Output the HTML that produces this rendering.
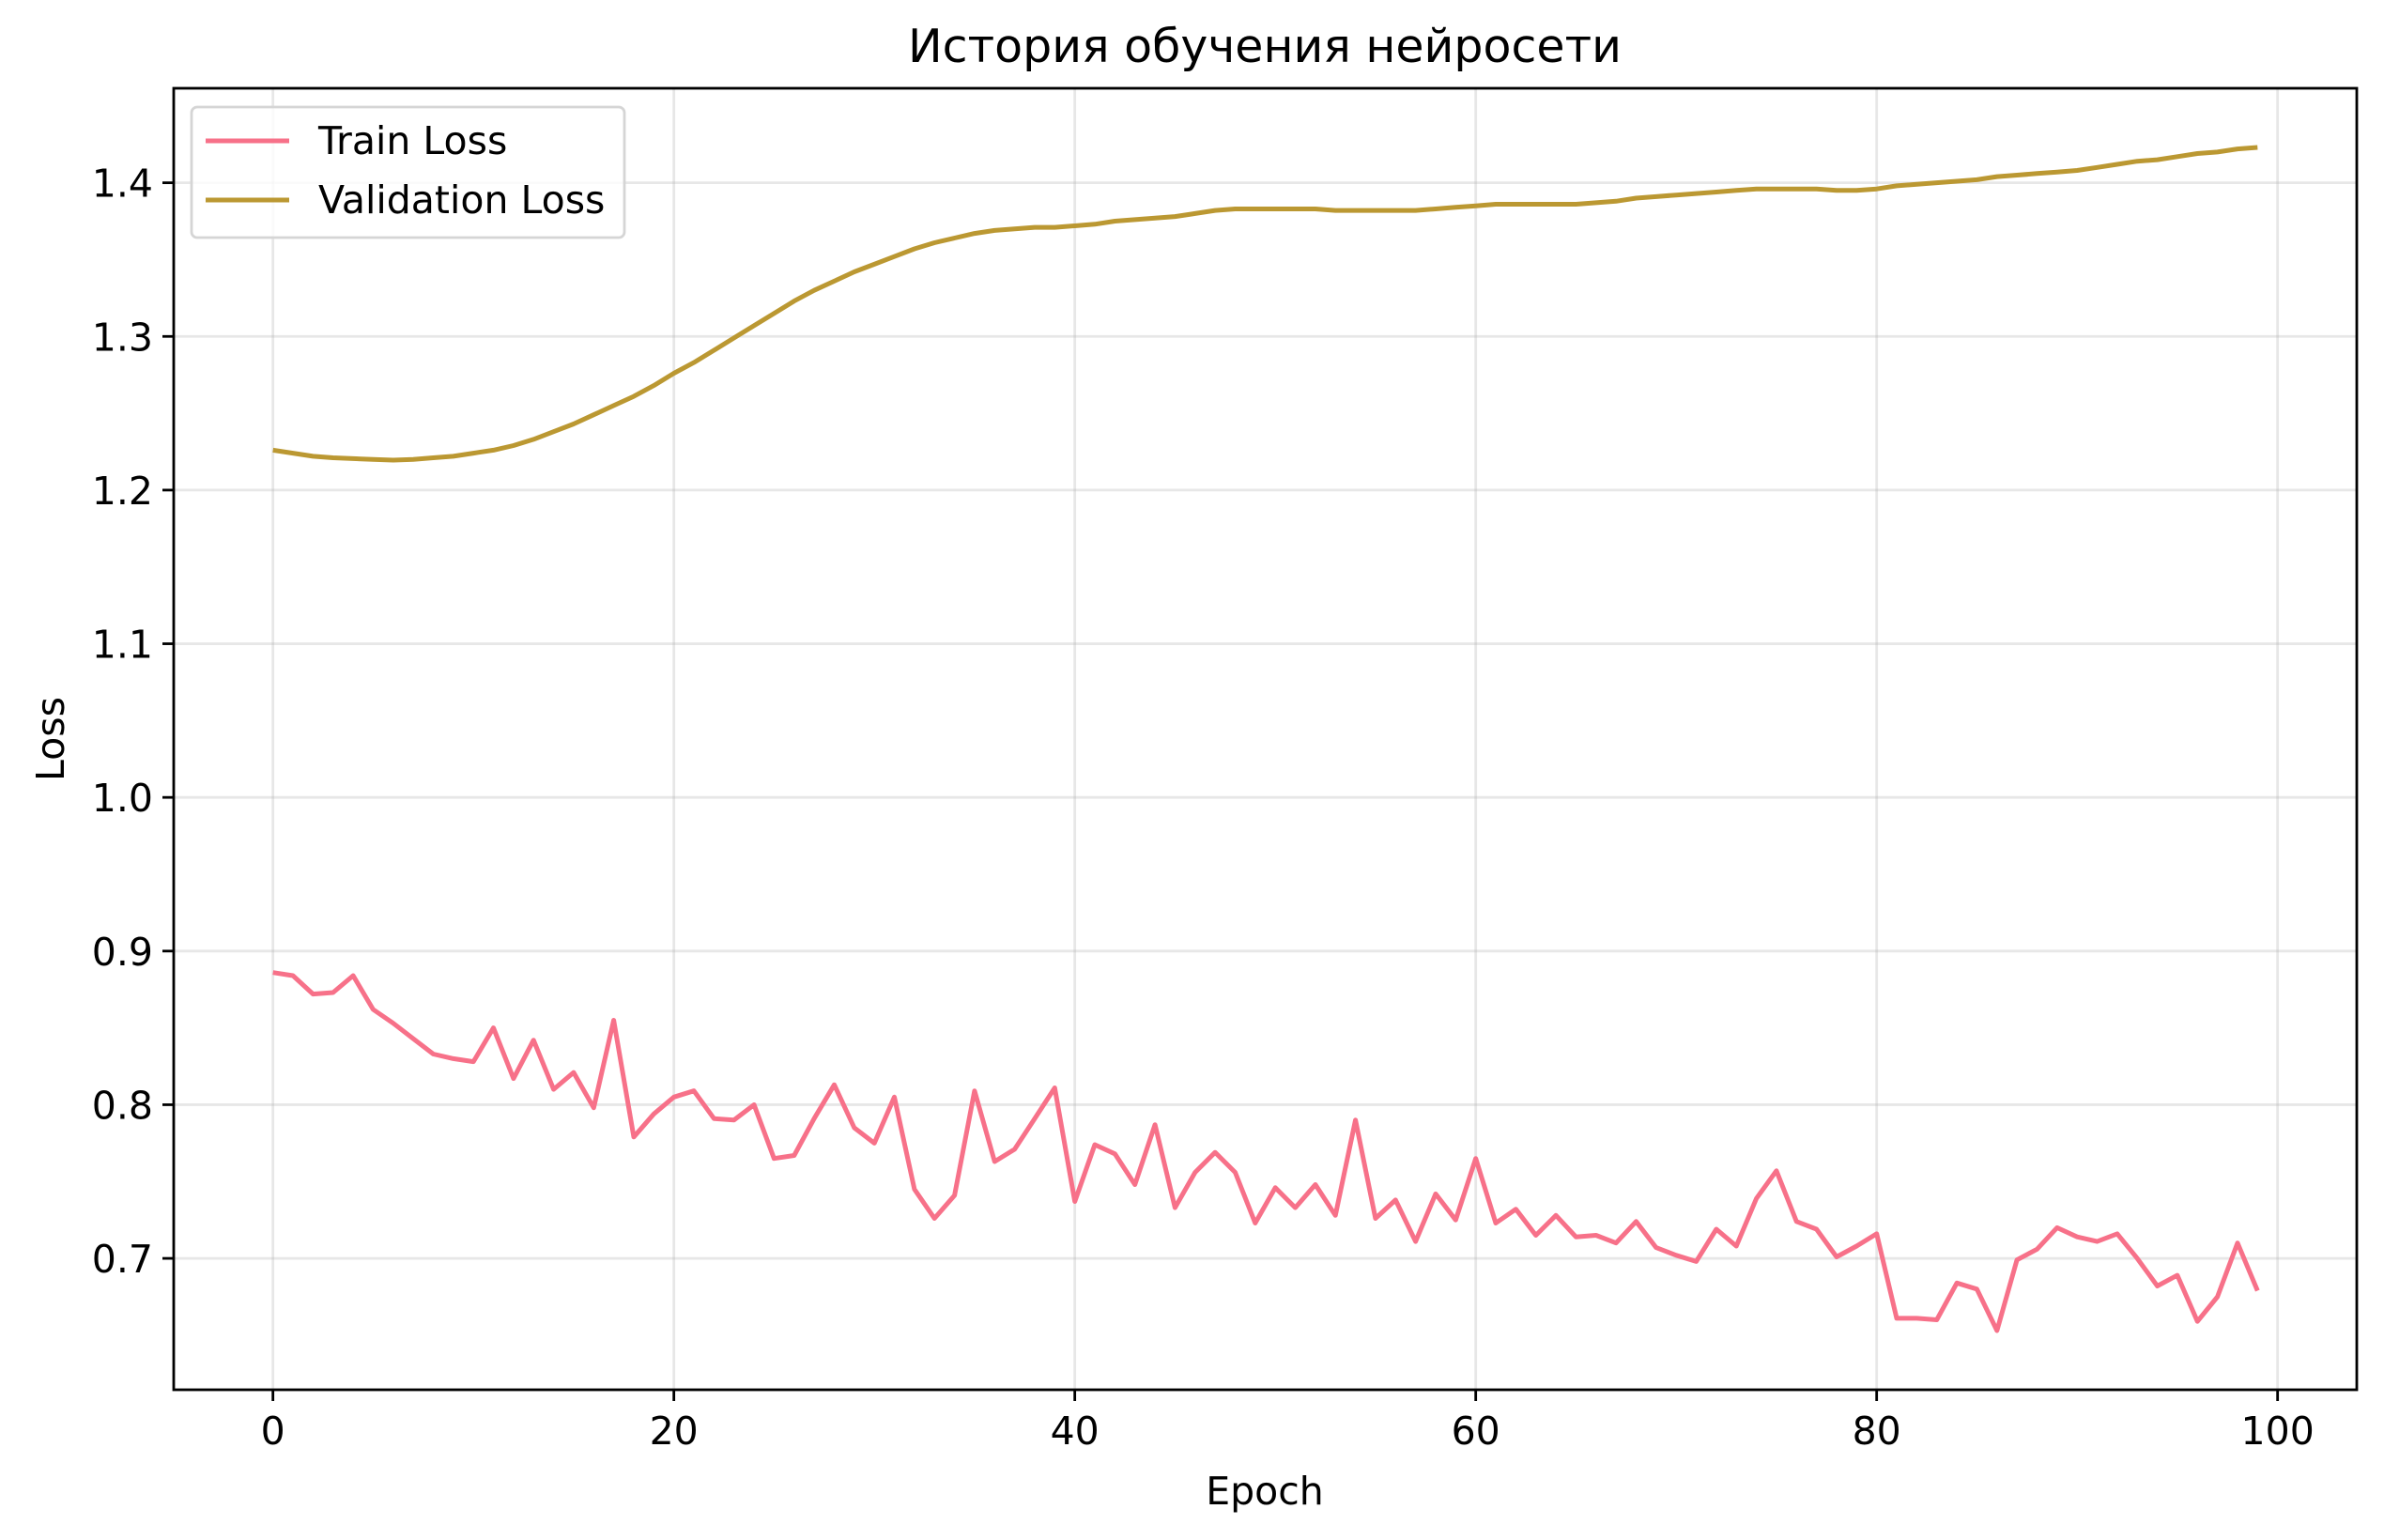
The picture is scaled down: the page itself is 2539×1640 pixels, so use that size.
<!DOCTYPE html>
<html><head><meta charset="utf-8"><style>
html,body{margin:0;padding:0;background:#fff;}
svg{display:block;font-family:"DejaVu Sans","Liberation Sans",sans-serif;}
</style></head><body>
<svg id="chart" width="2539" height="1640" viewBox="0 0 2539 1640" xmlns="http://www.w3.org/2000/svg">
<rect width="2539" height="1640" fill="#fff"/>
<text x="1347" y="66" font-size="49" text-anchor="middle" fill="#000">История обучения нейросети</text>
<g id="grid"></g>
<g id="series"></g>
<rect x="185" y="94" width="2325" height="1386" fill="none" stroke="#000" stroke-width="2.8"/>
<g id="ticks"></g>
<text x="1347" y="1602" font-size="41" text-anchor="middle">Epoch</text>
<text x="0" y="0" font-size="41" text-anchor="middle" transform="translate(68,787) rotate(-90)">Loss</text>
<g>
<rect x="204" y="114" width="461" height="139" rx="6" fill="#fff" fill-opacity="0.8" stroke="#d5d5d5" stroke-width="2.8"/>
<line x1="219" y1="150" x2="308" y2="150" stroke="#f77189" stroke-width="5"/>
<text x="339" y="164" font-size="41">Train Loss</text>
<line x1="219" y1="213" x2="308" y2="213" stroke="#bb9832" stroke-width="5"/>
<text x="339" y="227" font-size="41">Validation Loss</text>
</g>
</svg>
<script>
const trainLoss=[0.886,0.884,0.872,0.873,0.884,0.862,0.853,0.843,0.833,0.830,0.828,0.850,0.817,0.842,0.810,0.821,0.798,0.855,0.779,0.794,0.805,0.809,0.791,0.790,0.800,0.765,0.767,0.791,0.813,0.785,0.775,0.805,0.745,0.726,0.741,0.809,0.763,0.771,0.791,0.811,0.737,0.774,0.768,0.748,0.787,0.733,0.756,0.769,0.756,0.723,0.746,0.733,0.748,0.728,0.790,0.726,0.738,0.711,0.742,0.725,0.765,0.723,0.732,0.715,0.728,0.714,0.715,0.710,0.724,0.707,0.702,0.698,0.719,0.708,0.739,0.757,0.724,0.719,0.701,0.708,0.716,0.661,0.661,0.660,0.684,0.680,0.653,0.699,0.706,0.720,0.714,0.711,0.716,0.700,0.682,0.689,0.659,0.675,0.710,0.679];
const valLoss=[1.226,1.224,1.222,1.221,1.2205,1.220,1.2195,1.220,1.221,1.222,1.224,1.226,1.229,1.233,1.238,1.243,1.249,1.255,1.261,1.268,1.276,1.283,1.291,1.299,1.307,1.315,1.323,1.330,1.336,1.342,1.347,1.352,1.357,1.361,1.364,1.367,1.369,1.370,1.371,1.371,1.372,1.373,1.375,1.376,1.377,1.378,1.380,1.382,1.383,1.383,1.383,1.383,1.383,1.382,1.382,1.382,1.382,1.382,1.383,1.384,1.385,1.386,1.386,1.386,1.386,1.386,1.387,1.388,1.390,1.391,1.392,1.393,1.394,1.395,1.396,1.396,1.396,1.396,1.395,1.395,1.396,1.398,1.399,1.400,1.401,1.402,1.404,1.405,1.406,1.407,1.408,1.410,1.412,1.414,1.415,1.417,1.419,1.420,1.422,1.423];
const xTicks=[0,20,40,60,80,100];
const yTicks=[0.7,0.8,0.9,1.0,1.1,1.2,1.3,1.4];
const yTickLabels=["0.7","0.8","0.9","1.0","1.1","1.2","1.3","1.4"];

const NS="http://www.w3.org/2000/svg";
const L=185,R=2510,T=94,B=1480;
const all=trainLoss.concat(valLoss);
const n=trainLoss.length;
const xmin=-(n-1)*0.05,xmax=(n-1)*1.05;
const dmin=Math.min(...all),dmax=Math.max(...all),pad=(dmax-dmin)*0.05;
const ymin=dmin-pad,ymax=dmax+pad;
const xs=v=>L+(v-xmin)/(xmax-xmin)*(R-L);
const ys=v=>B-(v-ymin)/(ymax-ymin)*(B-T);
function mk(tag,attrs,parent){const e=document.createElementNS(NS,tag);for(const k in attrs)e.setAttribute(k,attrs[k]);parent.appendChild(e);return e;}
const grid=document.getElementById('grid'),ticks=document.getElementById('ticks'),series=document.getElementById('series');
xTicks.forEach(t=>{
  const x=xs(t);
  const g=mk('line',{x1:x,x2:x,y1:T,y2:B,stroke:'#b0b0b0','stroke-opacity':0.3,'stroke-width':2.8},grid);
  
  
  const tk=mk('line',{x1:x,x2:x,y1:B,y2:B+12,stroke:'#000','stroke-width':2.8},ticks);
  
  
  const tx=mk('text',{x:x,y:B+58,'font-size':41,'text-anchor':'middle'},ticks);
  tx.textContent=String(t);
  
  
});
yTicks.forEach((t,i)=>{
  const y=ys(t);
  const g=mk('line',{x1:L,x2:R,y1:y,y2:y,stroke:'#b0b0b0','stroke-opacity':0.3,'stroke-width':2.8},grid);
  
  
  const tk=mk('line',{x1:L-12,x2:L,y1:y,y2:y,stroke:'#000','stroke-width':2.8},ticks);
  
  
  const tx=mk('text',{x:L-22,y:y+15,'font-size':41,'text-anchor':'end'},ticks);
  tx.textContent=yTickLabels[i];
  
  
});
function line(data,color,name){
  const d=data.map((v,i)=>(i?'L':'M')+xs(i).toFixed(1)+','+ys(v).toFixed(1)).join('');
  const p=mk('path',{d:d,fill:'none',stroke:color,'stroke-width':5,'stroke-linejoin':'round'},series);
  
  
}
line(trainLoss,'#f77189','train-loss-line');
line(valLoss,'#bb9832','validation-loss-line');
</script>
</body></html>
